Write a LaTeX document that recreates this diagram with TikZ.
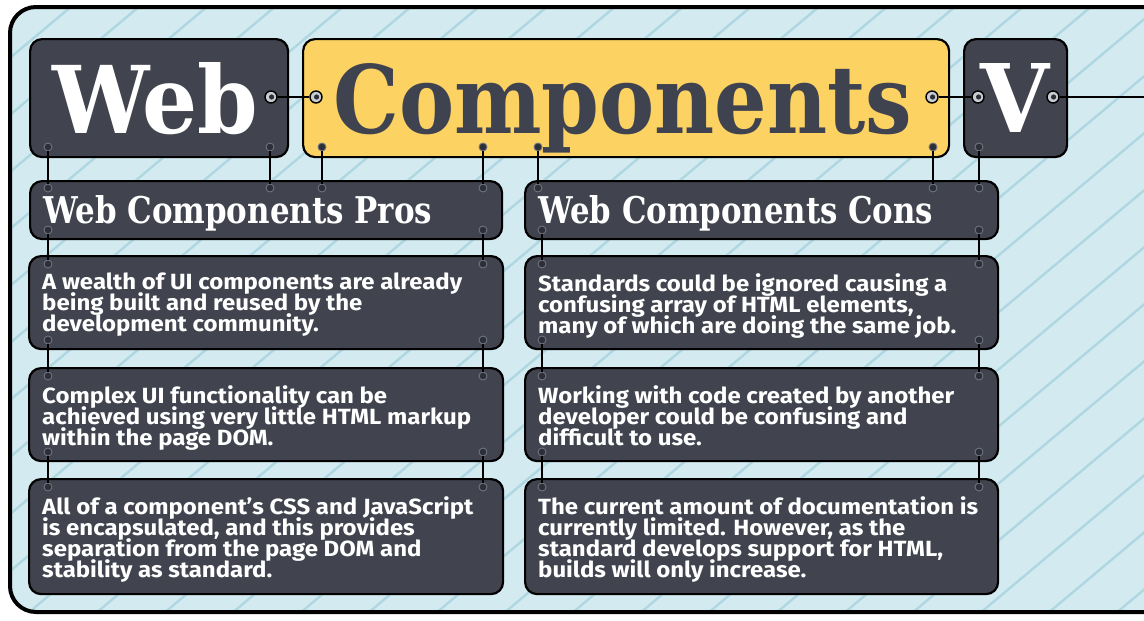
\documentclass[tikz,border=0pt]{standalone}
\usepackage{fontspec}
\setmainfont{DejaVu Serif}
\newfontfamily\slabfont{DejaVu Serif}
\newfontfamily\bodyfont{Fira Sans}[FakeStretch=1.09]
\usepackage{graphicx}

\definecolor{boxdark}{HTML}{41444E}
\definecolor{compyellow}{HTML}{FCD263}
\definecolor{comptext}{HTML}{3F4350}
\definecolor{bgblue}{HTML}{D3EBF0}
\definecolor{hatchblue}{HTML}{AFD7E2}
\definecolor{pindark}{HTML}{2C2F37}
\definecolor{pinrim}{HTML}{70747E}
\definecolor{ringgrey}{HTML}{C9CDD2}

\tikzset{
  panel/.style={draw=black, line width=2.2pt, rounded corners=12pt, inner sep=0pt, anchor=north west},
  darkbox/.style={panel, fill=boxdark},
  yellowbox/.style={panel, fill=compyellow},
  pin/.style={circle, fill=pindark, draw=pinrim, line width=0.9pt, inner sep=0pt, minimum size=8pt},
  ring/.style={circle, fill=ringgrey, draw=black, line width=1.4pt, inner sep=0pt, minimum size=12pt,
    path picture={\fill[pindark] ([xshift=0.6pt]path picture bounding box.center) circle (2.6pt);}},
  wire/.style={draw=black, line width=2.2pt},
  bigtitle/.style={anchor=base west, inner sep=0pt, font=\slabfont\bfseries},
  headtitle/.style={anchor=base west, inner sep=0pt, text=white, font=\slabfont\bfseries},
  bodytext/.style={anchor=north west, inner sep=0pt, align=left, text=white,
    font=\bodyfont\bfseries\fontsize{22}{21}\selectfont},
}

\begin{document}
\lineskiplimit=-20pt
\lineskip=0pt
\begin{tikzpicture}[x=1pt, y=-1pt]
\useasboundingbox (0,0) rectangle (1144,621);
\clip (0,0) rectangle (1144,621);
\fill[white] (0,0) rectangle (1144,621);

% frame with hatched pale-blue ground
\fill[bgblue, rounded corners=26pt] (10,7) rectangle (1220,612);
\begin{scope}
  \clip[rounded corners=26pt] (10,7) rectangle (1220,612);
  \foreach \c in {-900,-832,...,1200}
    \draw[hatchblue, line width=2.4pt] (\c,650) -- (\c+775,0);
\end{scope}
\draw[black, line width=4pt, rounded corners=26pt] (10,7) rectangle (1220,612);

% title boxes
\node[darkbox, minimum width=258pt, minimum height=118pt] (webbox) at (29,38) {};
\node[yellowbox, minimum width=646pt, minimum height=118pt] (compbox) at (302,38) {};
\node[darkbox, minimum width=103pt, minimum height=118pt] (vbox) at (963,38) {};

\node[bigtitle, text=white] (webtxt) at (52,133) {\resizebox{206pt}{71pt}{Web}};
\node[bigtitle, text=comptext] (comptxt) at (333,133) {\resizebox{579pt}{70pt}{Components}};
\node[bigtitle, text=white] (vtxt) at (980,132) {\resizebox{69pt}{69pt}{V}};

% section headers
\node[darkbox, minimum width=472pt, minimum height=58pt] (proshead) at (29,180) {};
\node[darkbox, minimum width=473pt, minimum height=58pt] (conshead) at (524,180) {};
\node[headtitle] (prostxt) at (43,223) {\resizebox{389pt}{28pt}{Web Components Pros}};
\node[headtitle] (constxt) at (538,223) {\resizebox{395pt}{28pt}{Web Components Cons}};

% body boxes
\node[darkbox, minimum width=474pt, minimum height=93pt] (p1) at (28,255) {};
\node[darkbox, minimum width=474pt, minimum height=93pt] (p2) at (28,367) {};
\node[darkbox, minimum width=474pt, minimum height=115pt] (p3) at (28,478) {};
\node[darkbox, minimum width=473pt, minimum height=93pt] (c1) at (524,255) {};
\node[darkbox, minimum width=473pt, minimum height=93pt] (c2) at (524,367) {};
\node[darkbox, minimum width=473pt, minimum height=115pt] (c3) at (524,478) {};

\node[bodytext] (p1txt) at (42,273) {A wealth of UI components are already\\being built and reused by the\\development community.};
\node[bodytext] (p2txt) at (42,385) {Complex UI functionality can be\\achieved using very little HTML markup\\within the page DOM.};
\node[bodytext] (p3txt) at (42,496) {All of a component’s CSS and JavaScript\\is encapsulated, and this provides\\separation from the page DOM and\\stability as standard.};
\node[bodytext] (c1txt) at (538,273) {Standards could be ignored causing a\\confusing array of HTML elements,\\many of which are doing the same job.};
\node[bodytext] (c2txt) at (538,385) {Working with code created by another\\developer could be confusing and\\difficult to use.};
\node[bodytext] (c3txt) at (538,496) {The current amount of documentation is\\currently limited. However, as the\\standard develops support for HTML,\\builds will only increase.};

% ring sockets on the title row
\node[ring] (r1) at (271,97) {};
\node[ring] (r2) at (316,97) {};
\node[ring] (r3) at (932,97) {};
\node[ring] (r4) at (978,97) {};
\node[ring] (r5) at (1053,97) {};
\coordinate (rend) at (1150,97);

% pins: title bottoms
\node[pin] (a1) at (48,147) {};
\node[pin] (a2) at (270,147) {};
\node[pin] (a3) at (322,147) {};
\node[pin] (a4) at (483,147) {};
\node[pin] (a5) at (538,147) {};
\node[pin] (a6) at (933,147) {};
\node[pin] (a7) at (979,147) {};
% pins: header tops
\node[pin] (b1) at (48,188) {};
\node[pin] (b2) at (270,188) {};
\node[pin] (b3) at (322,188) {};
\node[pin] (b4) at (483,188) {};
\node[pin] (b5) at (538,188) {};
\node[pin] (b6) at (933,188) {};
\node[pin] (b7) at (979,188) {};
% pins: header bottoms
\node[pin] (h1) at (48,230) {};
\node[pin] (h2) at (483,230) {};
\node[pin] (h3) at (542,230) {};
\node[pin] (h4) at (979,230) {};
% pins: body boxes
\foreach \col/\x in {pl/48, pr/483, cl/542, cr/979} {
  \node[pin] (\col-1t) at (\x,264) {};
  \node[pin] (\col-1b) at (\x,340) {};
  \node[pin] (\col-2t) at (\x,376) {};
  \node[pin] (\col-2b) at (\x,452) {};
  \node[pin] (\col-3t) at (\x,487) {};
}

% wires
\draw[wire] (r1) -- (r2);
\draw[wire] (r3) -- (r4);
\draw[wire] (r5) -- (rend);
\foreach \i in {1,...,7} \draw[wire] (a\i) -- (b\i);
\draw[wire] (h1) -- (pl-1t);
\draw[wire] (h2) -- (pr-1t);
\draw[wire] (h3) -- (cl-1t);
\draw[wire] (h4) -- (cr-1t);
\foreach \col in {pl,pr,cl,cr} {
  \draw[wire] (\col-1b) -- (\col-2t);
  \draw[wire] (\col-2b) -- (\col-3t);
}
\end{tikzpicture}
\end{document}
